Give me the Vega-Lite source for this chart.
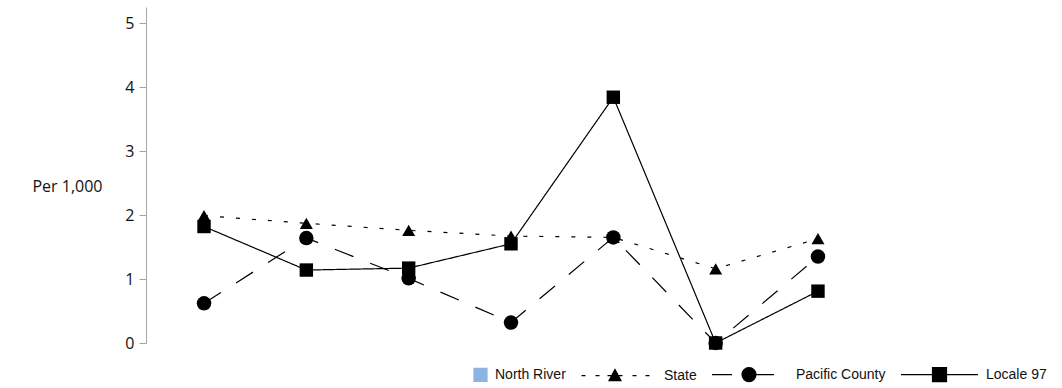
{
  "$schema": "https://vega.github.io/schema/vega-lite/v6.json",
  "width": 730,
  "height": 336,
  "autosize": "none",
  "padding": {"left": 146, "top": 7, "right": 186, "bottom": 45},
  "background": "white",
  "config": {"view": {"stroke": null}},
  "data": {
    "values": [
      {"series": "North River", "idx": 1, "value": null},
      {"series": "North River", "idx": 2, "value": null},
      {"series": "North River", "idx": 3, "value": null},
      {"series": "North River", "idx": 4, "value": null},
      {"series": "North River", "idx": 5, "value": null},
      {"series": "North River", "idx": 6, "value": null},
      {"series": "North River", "idx": 7, "value": null},
      {"series": "State", "idx": 1, "value": 1.99},
      {"series": "State", "idx": 2, "value": 1.87},
      {"series": "State", "idx": 3, "value": 1.76},
      {"series": "State", "idx": 4, "value": 1.67},
      {"series": "State", "idx": 5, "value": 1.65},
      {"series": "State", "idx": 6, "value": 1.16},
      {"series": "State", "idx": 7, "value": 1.63},
      {"series": "Pacific County", "idx": 1, "value": 0.62},
      {"series": "Pacific County", "idx": 2, "value": 1.64},
      {"series": "Pacific County", "idx": 3, "value": 1.01},
      {"series": "Pacific County", "idx": 4, "value": 0.32},
      {"series": "Pacific County", "idx": 5, "value": 1.65},
      {"series": "Pacific County", "idx": 6, "value": 0.0},
      {"series": "Pacific County", "idx": 7, "value": 1.35},
      {"series": "Locale 97", "idx": 1, "value": 1.82},
      {"series": "Locale 97", "idx": 2, "value": 1.14},
      {"series": "Locale 97", "idx": 3, "value": 1.17},
      {"series": "Locale 97", "idx": 4, "value": 1.55},
      {"series": "Locale 97", "idx": 5, "value": 3.84},
      {"series": "Locale 97", "idx": 6, "value": 0.0},
      {"series": "Locale 97", "idx": 7, "value": 0.81}
    ]
  },
  "encoding": {
    "x": {"field": "idx", "type": "ordinal", "scale": {"type": "point", "padding": 0.567}, "axis": null},
    "y": {
      "field": "value", "type": "quantitative",
      "scale": {"domain": [0, 5.25], "nice": false, "zero": true},
      "axis": {
        "values": [0, 1, 2, 3, 4, 5],
        "grid": false,
        "domainColor": "#a6a6a6",
        "tickColor": "#a6a6a6",
        "tickSize": 7,
        "labelPadding": 5,
        "labelFont": "Open Sans",
        "labelFontSize": 16,
        "labelColor": "#111111",
        "title": "Per 1,000",
        "titleFont": "Open Sans",
        "titleFontSize": 16,
        "titleFontWeight": "normal",
        "titleColor": "#111111",
        "titleAngle": 0,
        "titleAlign": "right",
        "titleBaseline": "middle",
        "titleX": -44,
        "titleY": 179
      }
    }
  },
  "layer": [
    {
      "transform": [{"filter": "datum.series !== 'North River'"}],
      "mark": {"type": "line", "color": "black", "strokeWidth": 1.2},
      "encoding": {
        "detail": {"field": "series"},
        "strokeDash": {
          "field": "series", "type": "nominal",
          "scale": {"domain": ["State", "Pacific County", "Locale 97"], "range": [[4, 12], [20, 18], [1, 0]]},
          "legend": null
        }
      }
    },
    {
      "transform": [{"filter": "datum.series === 'State'"}],
      "mark": {"type": "point", "shape": "triangle-up", "filled": true, "color": "black", "opacity": 1, "size": 169}
    },
    {
      "transform": [{"filter": "datum.series === 'Pacific County'"}],
      "mark": {"type": "point", "shape": "circle", "filled": true, "color": "black", "opacity": 1, "size": 210}
    },
    {
      "transform": [{"filter": "datum.series === 'Locale 97'"}],
      "mark": {"type": "point", "shape": "square", "filled": true, "color": "black", "opacity": 1, "size": 180}
    },
    {
      "transform": [{"filter": "datum.series === 'North River'"}],
      "mark": {"type": "point", "filled": true, "strokeWidth": 1.2},
      "encoding": {
        "shape": {
          "field": "series", "type": "nominal",
          "scale": {
            "domain": ["North River", "State", "Pacific County", "Locale 97"],
            "range": [
              "M0.662,-0.169H1V0.169H0.662Z",
              "M-0.935,0H-0.831M-0.571,0H-0.468M-0.26,0H0.13M0.39,0H0.494M0.727,0H0.831M-0.221,0.13L0.091,0.13L-0.065,-0.156Z",
              "M-0.974,0H-0.455M0.169,0H0.636M0.169,0A0.182,0.182,0,1,1,-0.195,0A0.182,0.182,0,1,1,0.169,0Z",
              "M-1,0H1M-0.182,-0.182H0.182V0.182H-0.182Z"
            ]
          },
          "legend": {
            "title": null,
            "orient": "none",
            "legendX": 263,
            "legendY": 328,
            "direction": "horizontal",
            "columns": 4,
            "padding": 0,
            "symbolSize": 5929,
            "symbolStrokeWidth": 1.2,
            "symbolOpacity": 1,
            "labelFont": "Liberation Sans",
            "labelFontSize": 14,
            "labelColor": "#111111",
            "labelOffset": 7,
            "columnPadding": 12
          }
        },
        "fill": {
          "field": "series", "type": "nominal",
          "scale": {"domain": ["North River", "State", "Pacific County", "Locale 97"], "range": ["#8db3e2", "black", "black", "black"]},
          "legend": {"title": null, "orient": "none", "legendX": 263, "legendY": 328, "direction": "horizontal", "columns": 4, "padding": 0, "symbolSize": 5929, "symbolStrokeWidth": 1.2, "symbolOpacity": 1, "labelFont": "Liberation Sans", "labelFontSize": 14, "labelColor": "#111111", "labelOffset": 7, "columnPadding": 12}
        },
        "stroke": {
          "field": "series", "type": "nominal",
          "scale": {"domain": ["North River", "State", "Pacific County", "Locale 97"], "range": ["#8db3e2", "black", "black", "black"]},
          "legend": {"title": null, "orient": "none", "legendX": 263, "legendY": 328, "direction": "horizontal", "columns": 4, "padding": 0, "symbolSize": 5929, "symbolStrokeWidth": 1.2, "symbolOpacity": 1, "labelFont": "Liberation Sans", "labelFontSize": 14, "labelColor": "#111111", "labelOffset": 7, "columnPadding": 12}
        }
      }
    }
  ]
}
